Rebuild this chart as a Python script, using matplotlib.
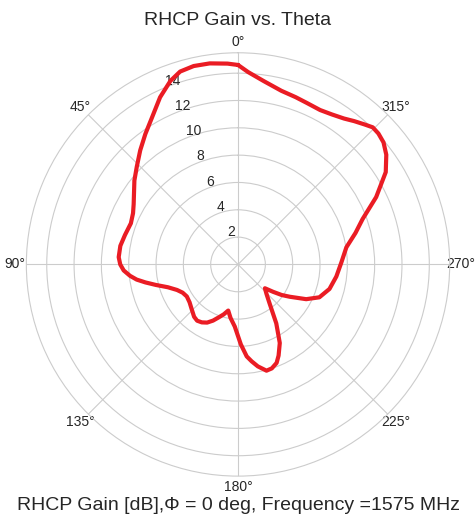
import numpy as np
import matplotlib.pyplot as plt
import seaborn as sns

# Data (theta in degrees, gain in dB)
theta_deg = [0, 3, 8, 12.6, 16.7, 20.2, 25, 30.3, 35.4, 40.6, 46, 51, 60, 64,
             69, 75.4, 81, 86.5, 90, 93, 96, 98.5, 101, 104, 108, 112.7, 117,
             122, 128, 134.6, 140, 144, 148, 152, 156, 160, 164, 168, 172, 177,
             182, 185.4, 188, 191, 195, 198, 201.4, 204, 208, 213, 219, 224,
             228.5, 232, 235, 238, 243, 248, 255, 263, 271, 279, 285, 290,
             296, 302, 306.5, 310, 313, 315.5, 318, 321, 324, 328, 332, 337,
             341, 346, 352, 357, 360]
gain_db = [14.6, 14.72, 14.86, 14.88, 14.74, 14.32, 13.5, 12.47, 11.71, 11.0,
           10.3, 9.76, 8.82, 8.55, 8.4, 8.55, 8.72, 8.75, 8.62, 8.38, 7.95,
           7.5, 6.9, 6.2, 5.4, 4.84, 4.55, 4.42, 4.5, 4.74, 5.0, 5.09, 5.0,
           4.82, 4.5, 4.12, 3.8, 3.45, 3.95, 4.55, 5.85, 6.76, 7.16, 7.6,
           8.05, 8.0, 7.74, 7.3, 6.51, 5.14, 3.67, 3.0, 2.63, 3.25, 3.9,
           4.46, 5.6, 6.42, 6.93, 7.25, 7.56, 8.03, 8.9, 9.7, 11.25, 12.75,
           13.5, 13.9, 14.05, 14.07, 13.8, 13.5, 13.2, 12.95, 12.8, 12.85,
           12.95, 13.1, 13.55, 14.1, 14.6]

sns.set_style('whitegrid')
plt.rcParams['font.family'] = ['Liberation Sans', 'DejaVu Sans']

fig = plt.figure(figsize=(4.76, 5.22), dpi=100)
ax = fig.add_axes([0.0553, 0.0879, 0.8895, 0.811], projection='polar')
ax.set_theta_zero_location('N')
ax.set_theta_direction(1)

ax.plot(np.radians(theta_deg), gain_db, color='#ea1c24', linewidth=3,
        solid_joinstyle='round')

ax.set_title('RHCP Gain vs. Theta', fontsize=14, pad=7)
ax.set_xlabel('RHCP Gain [dB],\u03a6 = 0 deg, Frequency =1575 MHz',
              fontsize=14, labelpad=2)
ax.tick_params(axis='x', labelsize=10, pad=-2.5)
ax.tick_params(axis='y', labelsize=10)

plt.savefig('out.png', dpi=100)
